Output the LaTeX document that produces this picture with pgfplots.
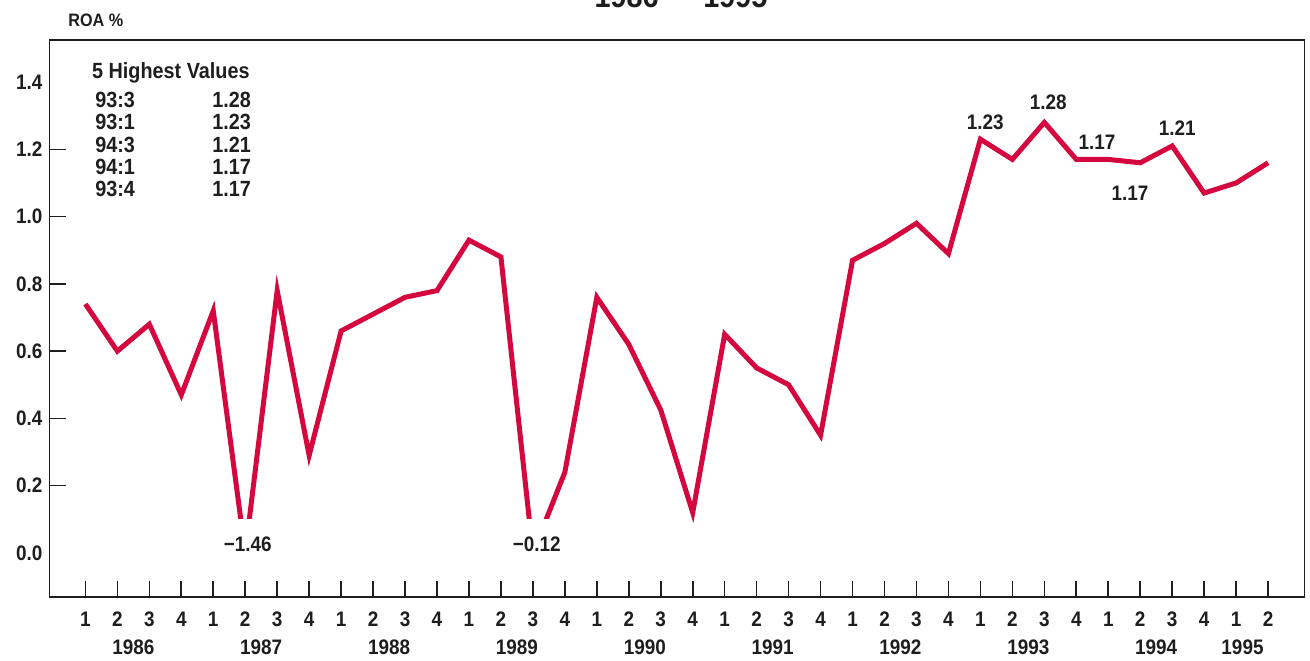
\documentclass[border=0pt]{standalone}
\usepackage{fontspec}
\setmainfont{Liberation Sans}[FakeStretch=0.9]
\usepackage{pgfplots}
\pgfplotsset{compat=1.18}

\definecolor{roaline}{RGB}{212,8,62}
\definecolor{ink}{RGB}{30,30,30}

\begin{document}
\begin{tikzpicture}
\useasboundingbox (0pt,0pt) rectangle (655pt,330pt);
% title, cut off by the top edge as in the original
\node[anchor=base, font=\bfseries\fontsize{16}{18}\selectfont, text=ink] at (340.5pt,326pt) {1986 — 1995};
\node[anchor=west, inner sep=0pt, font=\bfseries\fontsize{9}{10}\selectfont, text=ink] at (34pt,320pt) {ROA \%};

\begin{axis}[
    scale only axis,
    width=627.5pt, height=278.5pt,
    at={(24.75pt,31.5pt)}, anchor=south west,
    xmin=-1.123, xmax=38.14,
    ymin=-0.131, ymax=1.525,
    axis on top,
    axis line style={ink, line width=0.8pt},
    tick style={ink, line width=0.8pt},
    tick align=inside,
    xtick pos=bottom, ytick pos=left,
    major tick length=8pt,
    xtick={0,...,37},
    xticklabels={1,2,3,4,1,2,3,4,1,2,3,4,1,2,3,4,1,2,3,4,1,2,3,4,1,2,3,4,1,2,3,4,1,2,3,4,1,2},
    extra x ticks={1.5,5.5,9.5,13.5,17.5,21.5,25.5,29.5,33.5,36.2},
    extra x tick labels={1986,1987,1988,1989,1990,1991,1992,1993,1994,1995},
    extra x tick style={major tick length=0pt, xticklabel style={yshift=-14pt}},
    ytick={0.2,0.4,0.6,0.8,1.0,1.2},
    yticklabels={0.2,0.4,0.6,0.8,1.0,1.2},
    extra y ticks={0,1.4},
    extra y tick labels={0.0,1.4},
    extra y tick style={major tick length=0pt},
    tick label style={font=\bfseries\fontsize{10.5}{12}\selectfont, text=ink},
    xticklabel style={yshift=-4pt},
]

% quarterly ROA, 1986:1 - 1995:2 (1987:2 = -1.46 and 1989:3 = -0.12 are drawn at the floor)
\addplot[roaline, line width=2.5pt, line join=miter] coordinates {
    (0,0.74) (1,0.60) (2,0.68) (3,0.47)
    (4,0.72) (5,0.00) (6,0.78) (7,0.29)
    (8,0.66) (9,0.71) (10,0.76) (11,0.78)
    (12,0.93) (13,0.88) (14,0.00) (15,0.24)
    (16,0.76) (17,0.62) (18,0.425) (19,0.12)
    (20,0.65) (21,0.55) (22,0.50) (23,0.35)
    (24,0.87) (25,0.92) (26,0.98) (27,0.89)
    (28,1.23) (29,1.17) (30,1.28) (31,1.17)
    (32,1.17) (33,1.16) (34,1.21) (35,1.07)
    (36,1.10) (37,1.16)
};

% gap under the off-scale points
\fill[white] (axis cs:4.5,-0.3) rectangle (axis cs:6.5,0.10);
\fill[white] (axis cs:13.5,-0.3) rectangle (axis cs:14.9,0.10);

\begin{scope}[font=\bfseries\fontsize{10.5}{12}\selectfont, text=ink]
\node at (axis cs:5.08,0.027) {−1.46};
\node at (axis cs:14.12,0.027) {−0.12};
\node at (axis cs:28.15,1.281) {1.23};
\node at (axis cs:30.12,1.341) {1.28};
\node at (axis cs:31.65,1.222) {1.17};
\node at (axis cs:32.68,1.070) {1.17};
\node at (axis cs:34.16,1.263) {1.21};
\end{scope}

\begin{scope}[font=\bfseries\fontsize{11}{12}\selectfont, text=ink, every node/.style={anchor=west, inner sep=0pt}]
\node at (axis cs:0.2,1.427) {5 Highest Values};
\node at (axis cs:0.30,1.347) {93:3};
\node at (axis cs:0.30,1.281) {93:1};
\node at (axis cs:0.30,1.213) {94:3};
\node at (axis cs:0.30,1.147) {94:1};
\node at (axis cs:0.30,1.082) {93:4};
\node at (axis cs:3.96,1.347) {1.28};
\node at (axis cs:3.96,1.281) {1.23};
\node at (axis cs:3.96,1.213) {1.21};
\node at (axis cs:3.96,1.147) {1.17};
\node at (axis cs:3.96,1.082) {1.17};
\end{scope}
\end{axis}
\end{tikzpicture}
\end{document}
